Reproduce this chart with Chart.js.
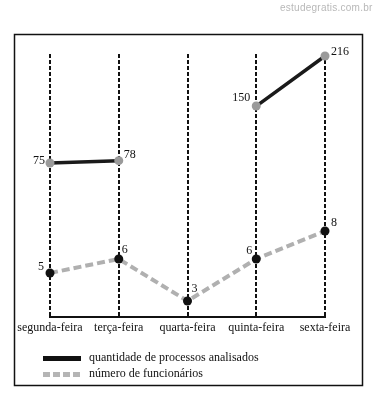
<!DOCTYPE html>
<html>
<head>
<meta charset="utf-8">
<script src="https://cdn.jsdelivr.net/npm/chart.js@4/dist/chart.umd.min.js"></script>
<style>
  html, body { margin: 0; padding: 0; background: #fff; }
  #wrap { position: relative; width: 375px; height: 394px; }
  #wm { position: absolute; left: 280px; top: 2px; font: 10px 'Liberation Sans', Arial, sans-serif; color: #b8b8b8; letter-spacing: 0.25px; }
  canvas { position: absolute; left: 0; top: 0; }
</style>
</head>
<body>
<div id="wrap">
  <canvas id="c" width="375" height="394"></canvas>
  <div id="wm">estudegratis.com.br</div>
</div>
<script>
// ---- data ----
const categories = ['segunda-feira', 'terça-feira', 'quarta-feira', 'quinta-feira', 'sexta-feira'];
const processos = [75, 78, null, 150, 216];
const funcionarios = [5, 6, 3, 6, 8];
const seriesLabels = ['quantidade de processos analisados', 'número de funcionários'];

// ---- styling ----
const SERIF = "'Liberation Serif', 'Times New Roman', serif";
// label offsets [dx, dy, align] per point (styling only)
const labelStyle = [
  [[-5, -2, 'right'], [5, -6, 'left'], null, [-6, -8, 'right'], [6, -4, 'left']],
  [[-6, -6, 'right'], [3, -9, 'left'], [4, -12, 'left'], [-4, -8, 'right'], [6, -8, 'left']]
];

const frameAndLabels = {
  id: 'frameAndLabels',
  beforeDatasetsDraw(chart) {
    // solid baseline along the x axis
    const ctx = chart.ctx, xs = chart.scales.x, a = chart.chartArea;
    ctx.save();
    ctx.strokeStyle = '#111';
    ctx.lineWidth = 2;
    ctx.setLineDash([]);
    ctx.beginPath();
    ctx.moveTo(xs.left - 1, a.bottom);
    ctx.lineTo(xs.right + 1, a.bottom);
    ctx.stroke();
    ctx.restore();
  },
  afterDatasetsDraw(chart) {
    const ctx = chart.ctx;
    ctx.save();
    ctx.font = '12px ' + SERIF;
    ctx.fillStyle = '#111';
    ctx.textBaseline = 'middle';
    chart.data.datasets.forEach((ds, di) => {
      const meta = chart.getDatasetMeta(di);
      meta.data.forEach((pt, i) => {
        const v = ds.data[i];
        if (v === null || v === undefined) return;
        const st = labelStyle[di][i] || [6, -6, 'left'];
        ctx.textAlign = st[2];
        ctx.fillText(String(v), pt.x + st[0], pt.y + st[1]);
      });
    });
    // outer frame
    ctx.strokeStyle = '#111';
    ctx.lineWidth = 1.5;
    ctx.strokeRect(14.5, 34.5, 348, 351);
    // legend
    ctx.textAlign = 'left';
    ctx.fillStyle = '#111';
    ctx.fillRect(43, 356, 38, 5);
    ctx.fillText(chart.data.datasets[0].label, 89, 358);
    ctx.fillStyle = '#b5b5b5';
    for (let x = 43; x < 81; x += 10) ctx.fillRect(x, 372, 7, 5);
    ctx.fillStyle = '#111';
    ctx.fillText(chart.data.datasets[1].label, 89, 374);
    ctx.restore();
  }
};

new Chart(document.getElementById('c'), {
  type: 'line',
  data: {
    labels: categories,
    datasets: [
      {
        label: seriesLabels[0],
        data: processos,
        yAxisID: 'yP',
        borderColor: '#1a1a1a',
        borderWidth: 3.5,
        pointBackgroundColor: '#9a9a9a',
        pointBorderWidth: 0,
        pointRadius: 4.5,
        spanGaps: false,
        tension: 0,
        clip: false
      },
      {
        label: seriesLabels[1],
        data: funcionarios,
        yAxisID: 'yF',
        borderColor: '#b0b0b0',
        borderWidth: 4,
        borderDash: [8, 4],
        pointBackgroundColor: '#111',
        pointBorderWidth: 0,
        pointRadius: 4.5,
        tension: 0,
        clip: false
      }
    ]
  },
  options: {
    responsive: false,
    animation: false,
    events: [],
    layout: { padding: { left: 50, right: 50, top: 54, bottom: 57 } },
    plugins: { legend: { display: false }, tooltip: { enabled: false } },
    scales: {
      x: {
        type: 'category',
        offset: false,
        grid: {
          display: true,
          color: '#111',
          lineWidth: 2,
          drawTicks: false
        },
        border: { display: false, dash: [4, 2] },
        ticks: {
          color: '#111',
          font: { family: SERIF, size: 12 },
          padding: 4,
          maxRotation: 0,
          autoSkip: false
        },
        afterFit(scale) { scale.height = 20; }
      },
      yP: { display: false, min: -128, max: 218.6 },
      yF: { display: false, min: 1.857, max: 20.64 }
    }
  },
  plugins: [frameAndLabels]
});
</script>
</body>
</html>
